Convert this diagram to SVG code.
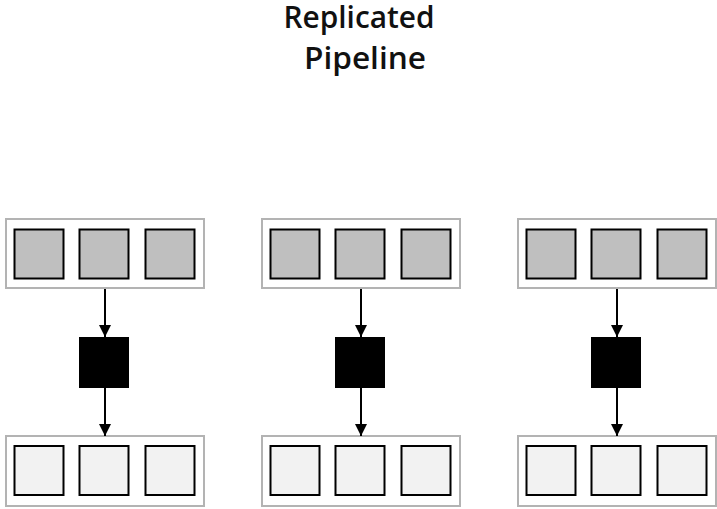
<svg xmlns="http://www.w3.org/2000/svg" width="717" height="509" viewBox="0 0 717 509">
  <style>
    .bg { fill: #ffffff; }
    .title { font-family: "Open Sans", Lato, sans-serif; font-size: 31px; font-weight: 600; fill: #111111; text-anchor: middle; }
    .box { fill: #ffffff; stroke: #b3b3b3; stroke-width: 2; }
    .src { fill: #bfbfbf; stroke: #000000; stroke-width: 2; }
    .dst { fill: #f2f2f2; stroke: #000000; stroke-width: 2; }
    .stage { fill: #000000; }
    .edge { stroke: #000000; stroke-width: 2; fill: none; marker-end: url(#arrow); }
  </style>
  <defs>
    <marker id="arrow" viewBox="0 0 12 12" refX="12" refY="6" markerWidth="12" markerHeight="12" markerUnits="userSpaceOnUse" orient="auto">
      <path d="M0,0 L12,6 L0,12 Z" fill="#000000"/>
    </marker>
    <!-- one row of three slots inside its frame -->
    <g id="srcRow">
      <rect class="box" x="6" y="219" width="198" height="69"/>
      <rect class="src" x="14.5" y="229.5" width="49" height="49"/>
      <rect class="src" x="79.5" y="229.5" width="49" height="49"/>
      <rect class="src" x="145.5" y="229.5" width="49" height="49"/>
    </g>
    <g id="dstRow">
      <rect class="box" x="6" y="436" width="198" height="70"/>
      <rect class="dst" x="14.5" y="446" width="49" height="49"/>
      <rect class="dst" x="79.5" y="446" width="49" height="49"/>
      <rect class="dst" x="145.5" y="446" width="49" height="49"/>
    </g>
  </defs>
  <rect class="bg" width="717" height="509"/>

  <g id="title">
    <text class="title" x="359" y="27.5" textLength="151" lengthAdjust="spacingAndGlyphs">Replicated</text>
    <text class="title" x="365" y="68.5" textLength="122" lengthAdjust="spacingAndGlyphs">Pipeline</text>
  </g>

  <!-- pipeline 1 -->
  <g id="input-1"><use href="#srcRow"/></g>
  <g id="stage-1"><rect class="stage" x="79" y="337" width="50" height="51"/></g>
  <g id="output-1"><use href="#dstRow"/></g>

  <!-- pipeline 2 -->
  <g id="input-2"><use href="#srcRow" x="256"/></g>
  <g id="stage-2"><rect class="stage" x="335" y="337" width="50" height="51"/></g>
  <g id="output-2"><use href="#dstRow" x="256"/></g>

  <!-- pipeline 3 -->
  <g id="input-3"><use href="#srcRow" x="512"/></g>
  <g id="stage-3"><rect class="stage" x="591" y="337" width="50" height="51"/></g>
  <g id="output-3"><use href="#dstRow" x="512"/></g>

  <g id="connectors">
    <line class="edge" x1="105" y1="289" x2="105" y2="337"/>
    <line class="edge" x1="105" y1="388" x2="105" y2="436"/>
    <line class="edge" x1="361" y1="289" x2="361" y2="337"/>
    <line class="edge" x1="361" y1="388" x2="361" y2="436"/>
    <line class="edge" x1="617" y1="289" x2="617" y2="337"/>
    <line class="edge" x1="617" y1="388" x2="617" y2="436"/>
  </g>
</svg>
